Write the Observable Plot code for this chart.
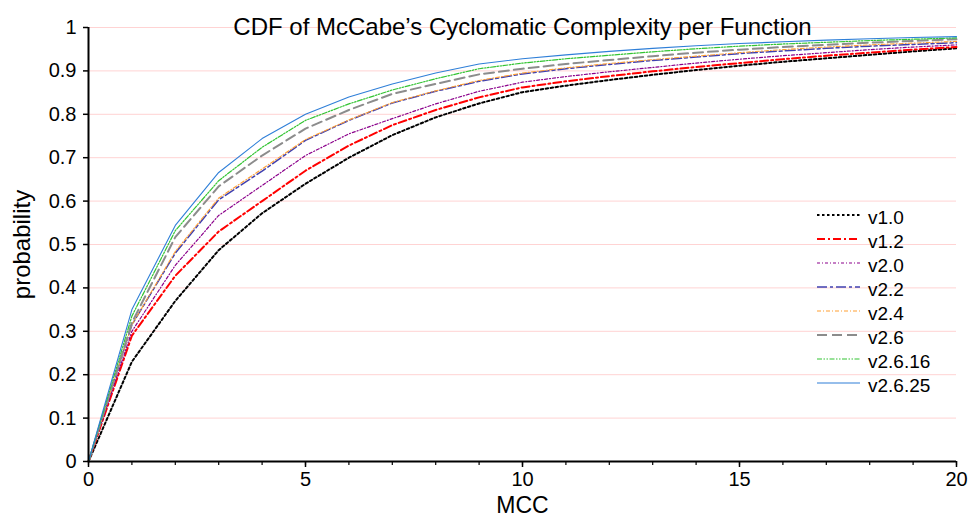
<!DOCTYPE html>
<html>
<head>
<meta charset="utf-8">
<script src="https://cdn.jsdelivr.net/npm/d3@7"></script>
<script src="https://cdn.jsdelivr.net/npm/@observablehq/plot@0.6"></script>
<style>
  html, body { margin: 0; padding: 0; background: #fff; overflow: hidden; }
  #chart { position: relative; width: 969px; height: 526px; }
</style>
</head>
<body>
<div id="chart"></div>
<script>
const titleText = "CDF of McCabe\u2019s Cyclomatic Complexity per Function";
const xLabel = "MCC";
const yLabel = "probability";

const mcc = [0,1,2,3,4,5,6,7,8,9,10,11,12,13,14,15,16,17,18,19,20];
const xMajorTicks = [0,5,10,15,20];
const yTicks = [0,0.1,0.2,0.3,0.4,0.5,0.6,0.7,0.8,0.9,1];

const seriesNames = ["v1.0","v1.2","v2.0","v2.2","v2.4","v2.6","v2.6.16","v2.6.25"];

const v1_0   = [0,0.230,0.370,0.487,0.572,0.640,0.700,0.752,0.793,0.825,0.851,0.866,0.879,0.891,0.902,0.912,0.921,0.929,0.937,0.945,0.952];
const v1_2   = [0,0.290,0.428,0.530,0.600,0.670,0.728,0.775,0.810,0.839,0.862,0.876,0.888,0.899,0.909,0.918,0.927,0.935,0.942,0.949,0.955];
const v2_0   = [0,0.300,0.452,0.567,0.636,0.705,0.755,0.790,0.824,0.853,0.874,0.887,0.898,0.908,0.918,0.927,0.935,0.942,0.949,0.955,0.960];
const v2_2   = [0,0.315,0.480,0.603,0.669,0.740,0.786,0.826,0.853,0.876,0.893,0.905,0.915,0.924,0.932,0.940,0.946,0.952,0.957,0.961,0.965];
const v2_4   = [0,0.315,0.484,0.607,0.674,0.742,0.787,0.827,0.854,0.878,0.895,0.907,0.917,0.926,0.934,0.942,0.949,0.955,0.960,0.964,0.968];
const v2_6   = [0,0.320,0.517,0.634,0.705,0.767,0.810,0.847,0.870,0.892,0.905,0.916,0.925,0.934,0.942,0.949,0.955,0.960,0.965,0.969,0.973];
const v2_6_16= [0,0.335,0.532,0.647,0.724,0.786,0.824,0.856,0.882,0.905,0.918,0.928,0.936,0.944,0.951,0.957,0.962,0.966,0.970,0.973,0.976];
const v2_6_25= [0,0.350,0.544,0.666,0.744,0.800,0.840,0.870,0.895,0.916,0.928,0.937,0.945,0.952,0.958,0.963,0.967,0.971,0.974,0.977,0.979];

const seriesValues = [v1_0, v1_2, v2_0, v2_2, v2_4, v2_6, v2_6_16, v2_6_25];

const styles = [
  {stroke: "#000000", width: 2,   dash: "2.5,2.5"},
  {stroke: "#ff0000", width: 2,   dash: "8,3,2,3"},
  {stroke: "#8b008b", width: 1.2, dash: "3,2,1,2"},
  {stroke: "#4040b0", width: 1.5, dash: "10,3,3,3"},
  {stroke: "#ffa033", width: 1.1, dash: "4,2,1,2"},
  {stroke: "#8c8c8c", width: 2,   dash: "10,5"},
  {stroke: "#33c433", width: 1.2, dash: "5,1.5,1.5,1.5,1.5,1.5"},
  {stroke: "#2f7fd8", width: 1.1, dash: null}
];

const data = seriesNames.map((name, si) =>
  mcc.map((x, i) => ({series: name, x, y: seriesValues[si][i]}))
);

const font = "'Liberation Sans', Arial, sans-serif";

const plot = Plot.plot({
  width: 969,
  height: 526,
  marginLeft: 88,
  marginRight: 13,
  marginTop: 27,
  marginBottom: 65,
  style: {fontFamily: font, fontSize: "20px", color: "#000", background: "#fff"},
  x: {domain: [0, 20]},
  y: {domain: [0, 1]},
  marks: [
    Plot.ruleY(yTicks.filter(d => d > 0), {stroke: "#ffd3d3", strokeWidth: 1}),
    ...data.map((d, si) => Plot.line(d, {
      x: "x", y: "y",
      stroke: styles[si].stroke,
      strokeWidth: styles[si].width,
      strokeDasharray: styles[si].dash || undefined,
      strokeLinejoin: "miter"
    })),
    Plot.axisY({ticks: yTicks, tickSize: 5, tickPadding: 7, tickFormat: d => String(+d.toFixed(1)), label: null, fontSize: 20, strokeWidth: 1.5}),
    Plot.axisX({ticks: mcc, tickSize: 4, tickFormat: () => "", label: null, strokeWidth: 1.2}),
    Plot.axisX({ticks: xMajorTicks, tickSize: 6, tickPadding: 4, label: null, fontSize: 20, strokeWidth: 1.5}),
    Plot.ruleX([0], {stroke: "#000", strokeWidth: 2}),
    Plot.ruleY([0], {stroke: "#000", strokeWidth: 2}),
    Plot.text([titleText], {frameAnchor: "top", dy: -10, fontSize: 24, fill: "#000"}),
    Plot.text([xLabel], {frameAnchor: "bottom", dy: 51, fontSize: 23, fill: "#000", textAnchor: "middle"}),
    Plot.text([yLabel], {frameAnchor: "left", dx: -66, rotate: -90, fontSize: 24, fill: "#000", textAnchor: "middle"})
  ]
});

document.getElementById("chart").appendChild(plot);

// Legend (layout only, inside plot area)
const svg = d3.select(plot);
const lg = svg.append("g").attr("font-family", font).attr("font-size", 19).attr("text-anchor", "start");
seriesNames.forEach((name, i) => {
  const cy = 217 + i * 24;
  const s = styles[i];
  lg.append("line")
    .attr("x1", 817).attr("x2", 860)
    .attr("y1", cy - 2).attr("y2", cy - 2)
    .attr("stroke", s.stroke)
    .attr("stroke-width", s.width)
    .attr("stroke-dasharray", s.dash);
  lg.append("text")
    .attr("x", 868).attr("y", cy)
    .attr("dominant-baseline", "central")
    .attr("text-anchor", "start")
    .attr("fill", "#000")
    .text(name);
});
</script>
</body>
</html>
